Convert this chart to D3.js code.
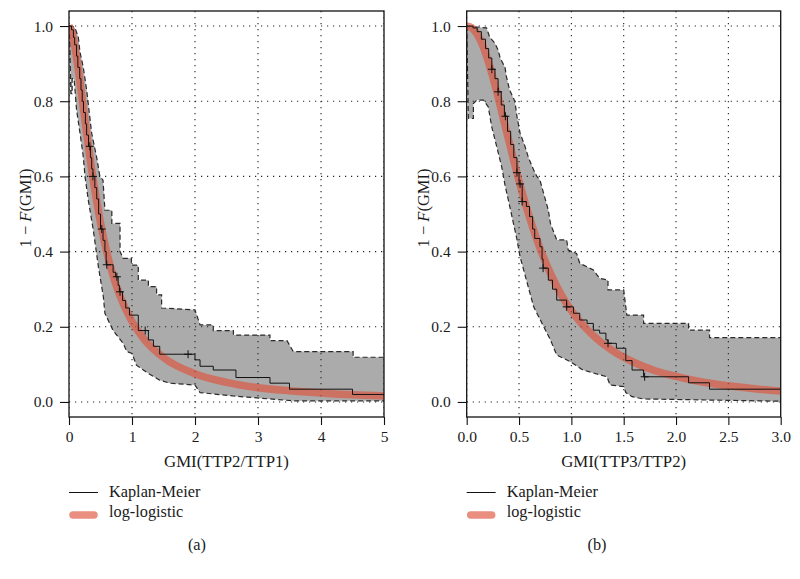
<!DOCTYPE html>
<html><head><meta charset="utf-8">
<script src="https://cdn.jsdelivr.net/npm/d3@7"></script>
<style>
body{margin:0;background:#fff}
svg{display:block}
text{font-family:"Liberation Serif","Times New Roman",serif;fill:#1a1a1a}
</style>
</head><body>
<svg id="chart" width="800" height="579"></svg>
<script>
// ---------- data ----------
// Panel (a): GMI(TTP2/TTP1)
const xTicksA = [0, 1, 2, 3, 4, 5];
const kmA = [[0,1.0],[0.04,0.99],[0.07,0.97],[0.09,0.95],[0.12,0.92],[0.14,0.89],[0.17,0.86],[0.19,0.83],[0.21,0.8],[0.23,0.77],[0.26,0.74],[0.28,0.71],[0.31,0.68],[0.34,0.65],[0.36,0.62],[0.38,0.6],[0.41,0.57],[0.44,0.54],[0.47,0.5],[0.5,0.46],[0.54,0.43],[0.57,0.4],[0.59,0.365],[0.7,0.345],[0.74,0.333],[0.78,0.31],[0.8,0.293],[0.85,0.27],[0.9,0.25],[0.96,0.231],[1.1,0.19],[1.26,0.165],[1.34,0.148],[1.44,0.127],[2.0,0.112],[2.08,0.095],[2.29,0.085],[2.65,0.065],[3.19,0.05],[3.5,0.034],[4.5,0.02],[5,0.02]];
const censorA = [0.33, 0.38, 0.52, 0.6, 0.76, 0.81, 1.21, 1.89];
const upperA = [[0,1.0],[0.05,1.0],[0.095,0.995],[0.148,0.97],[0.175,0.93],[0.227,0.89],[0.28,0.83],[0.36,0.715],[0.44,0.65],[0.49,0.6],[0.54,0.59],[0.57,0.51],[0.68,0.51],[0.68,0.475],[0.81,0.475],[0.81,0.40],[0.86,0.382],[0.99,0.382],[0.99,0.364],[1.1,0.364],[1.1,0.324],[1.26,0.324],[1.26,0.307],[1.39,0.307],[1.39,0.285],[1.47,0.285],[1.47,0.25],[2.0,0.245],[2.08,0.205],[2.29,0.205],[2.29,0.19],[2.61,0.19],[2.61,0.178],[3.19,0.178],[3.19,0.163],[3.46,0.163],[3.56,0.134],[4.51,0.134],[4.51,0.119],[5,0.119]];
const lowerA = [[0,1.0],[0.01,0.97],[0.02,0.9],[0.03,0.82],[0.05,0.82],[0.05,0.86],[0.08,0.86],[0.1,0.82],[0.12,0.777],[0.175,0.715],[0.227,0.652],[0.254,0.6],[0.306,0.537],[0.386,0.457],[0.466,0.36],[0.545,0.28],[0.57,0.236],[0.7,0.19],[0.86,0.156],[0.92,0.134],[1.0,0.129],[1.07,0.098],[1.26,0.076],[1.44,0.058],[1.6,0.05],[2.0,0.045],[2.08,0.025],[2.6,0.016],[3.56,0.003],[5,0.003]];
const fitXA = [0,0.05,0.1,0.15,0.2,0.25,0.3,0.4,0.5,0.6,0.7,0.8,1.0,1.2,1.5,2.0,2.5,3.0,3.5,4.0,4.5,5.0];
const fitSA = [1.0,0.981,0.938,0.881,0.818,0.754,0.690,0.574,0.477,0.398,0.336,0.286,0.214,0.165,0.118,0.075,0.052,0.038,0.030,0.024,0.019,0.016];

// Panel (b): GMI(TTP3/TTP2)
const xTicksB = [0, 0.5, 1.0, 1.5, 2.0, 2.5, 3.0];
const kmB = [[0,1.0],[0.06,0.995],[0.1,0.985],[0.14,0.965],[0.18,0.94],[0.21,0.915],[0.24,0.885],[0.27,0.86],[0.3,0.825],[0.33,0.79],[0.36,0.76],[0.39,0.72],[0.42,0.685],[0.45,0.65],[0.48,0.61],[0.5,0.58],[0.53,0.533],[0.57,0.52],[0.6,0.493],[0.63,0.46],[0.65,0.435],[0.70,0.413],[0.72,0.38],[0.73,0.356],[0.78,0.324],[0.82,0.3],[0.86,0.271],[0.955,0.253],[1.02,0.236],[1.08,0.218],[1.15,0.209],[1.21,0.191],[1.27,0.183],[1.33,0.165],[1.35,0.156],[1.43,0.143],[1.52,0.11],[1.58,0.085],[1.69,0.067],[2.12,0.051],[2.32,0.034],[3,0.034]];
const censorB = [0.24, 0.30, 0.37, 0.48, 0.51, 0.53, 0.73, 0.955, 1.35, 1.7];
const upperB = [[0,1.0],[0.19,0.995],[0.22,0.97],[0.27,0.954],[0.30,0.936],[0.32,0.915],[0.366,0.89],[0.38,0.865],[0.41,0.83],[0.46,0.80],[0.48,0.76],[0.51,0.715],[0.557,0.68],[0.59,0.65],[0.64,0.617],[0.67,0.6],[0.70,0.59],[0.78,0.51],[0.80,0.475],[0.86,0.431],[0.955,0.431],[0.97,0.404],[1.05,0.395],[1.08,0.369],[1.21,0.351],[1.27,0.329],[1.35,0.324],[1.35,0.298],[1.50,0.298],[1.53,0.231],[1.69,0.231],[1.69,0.209],[2.12,0.209],[2.12,0.191],[2.32,0.191],[2.32,0.171],[3,0.171]];
const lowerB = [[0,1.0],[0.016,0.754],[0.064,0.754],[0.064,0.794],[0.096,0.803],[0.159,0.803],[0.206,0.785],[0.239,0.732],[0.287,0.679],[0.334,0.626],[0.366,0.577],[0.398,0.537],[0.478,0.435],[0.51,0.386],[0.64,0.253],[0.72,0.209],[0.80,0.165],[0.86,0.125],[0.99,0.107],[1.11,0.085],[1.34,0.067],[1.37,0.045],[1.5,0.041],[1.52,0.025],[1.58,0.014],[1.69,0.008],[3,0.002]];
const fitXB = [0,0.05,0.1,0.15,0.2,0.25,0.3,0.35,0.4,0.5,0.6,0.7,0.8,0.9,1.0,1.2,1.4,1.6,1.8,2.0,2.25,2.5,2.75,3.0];
const fitSB = [1.0,0.995,0.978,0.950,0.911,0.864,0.811,0.754,0.698,0.588,0.491,0.409,0.342,0.287,0.243,0.179,0.135,0.105,0.083,0.068,0.053,0.043,0.035,0.029];

const yTicks = [0, 0.2, 0.4, 0.6, 0.8, 1.0];
const legendLabels = ["Kaplan-Meier", "log-logistic"];
// ---------------------------------------------------

const svg = d3.select("#chart");
const panels = [
  {id:"a", left:69, right:384, xDomain:[0,5], xTicks:xTicksA, fmt:d3.format("d"),
   km:kmA, censor:censorA, upper:upperA, lower:lowerA, fitX:fitXA, fitS:fitSA,
   xTitle:"GMI(TTP2/TTP1)", caption:"(a)", capX:197},
  {id:"b", left:466.7, right:780.7, xDomain:[0,3], xTicks:xTicksB, fmt:d3.format(".1f"),
   km:kmB, censor:censorB, upper:upperB, lower:lowerB, fitX:fitXB, fitS:fitSB,
   xTitle:"GMI(TTP3/TTP2)", caption:"(b)", capX:597}
];
const plotTop = 11, plotBottom = 417;
const y = d3.scaleLinear().domain([-0.04, 1.04]).range([plotBottom, plotTop]);
const redColor = "rgb(223,83,60)", redOpacity = 0.65;

panels.forEach(p => {
  const x = d3.scaleLinear().domain(p.xDomain).range([p.left, p.right]);
  const g = svg.append("g");
  const clipId = "clip-" + p.id;
  svg.append("defs").append("clipPath").attr("id", clipId)
    .append("rect").attr("x", p.left).attr("y", plotTop).attr("width", p.right - p.left).attr("height", plotBottom - plotTop);
  const plot = g.append("g").attr("clip-path", `url(#${clipId})`);

  const line = d3.line().x(d => x(d[0])).y(d => y(d[1]));

  // confidence band fill
  const poly = p.upper.concat(p.lower.slice().reverse());
  plot.append("path").attr("d", line(poly) + "Z").attr("fill", "#ababab").attr("stroke", "none");

  // grid
  const gridStyle = s => s.attr("stroke", "#222").attr("stroke-width", 1.1).attr("stroke-dasharray", "1.2,4.8");
  plot.selectAll(".gx").data(p.xTicks).join("line")
    .attr("x1", d => x(d)).attr("x2", d => x(d)).attr("y1", plotTop).attr("y2", plotBottom).call(gridStyle);
  plot.selectAll(".gy").data(yTicks).join("line")
    .attr("x1", p.left).attr("x2", p.right).attr("y1", d => y(d)).attr("y2", d => y(d)).call(gridStyle);

  // band edges (dashed)
  [p.upper, p.lower].forEach(b => {
    plot.append("path").attr("d", line(b)).attr("fill", "none")
      .attr("stroke", "#2a2a2a").attr("stroke-width", 1.2).attr("stroke-dasharray", "5,3");
  });

  // log-logistic fit
  const fit = p.fitX.map((v, i) => [v, p.fitS[i]]);
  plot.append("path").attr("d", d3.line().x(d => x(d[0])).y(d => y(d[1])).curve(d3.curveMonotoneX)(fit))
    .attr("fill", "none").attr("stroke", redColor).attr("stroke-opacity", redOpacity)
    .attr("stroke-width", 7.5);

  // Kaplan-Meier
  plot.append("path").attr("d", d3.line().x(d => x(d[0])).y(d => y(d[1])).curve(d3.curveStepAfter)(p.km))
    .attr("fill", "none").attr("stroke", "#111").attr("stroke-width", 1);

  // censor marks
  const bis = d3.bisector(d => d[0]).right;
  p.censor.forEach(cx => {
    const s = p.km[Math.max(0, bis(p.km, cx) - 1)][1];
    const px = x(cx), py = y(s);
    plot.append("path").attr("d", `M${px-4},${py}h8M${px},${py-4}v8`)
      .attr("stroke", "#111").attr("stroke-width", 1).attr("fill", "none");
  });

  // frame
  g.append("rect").attr("x", p.left).attr("y", plotTop).attr("width", p.right - p.left).attr("height", plotBottom - plotTop)
    .attr("fill", "none").attr("stroke", "#111").attr("stroke-width", 1.3);

  // axes
  const ax = g.append("g").attr("transform", `translate(0,${plotBottom})`)
    .call(d3.axisBottom(x).tickValues(p.xTicks).tickFormat(p.fmt).tickSize(8).tickPadding(6));
  const ay = g.append("g").attr("transform", `translate(${p.left},0)`)
    .call(d3.axisLeft(y).tickValues(yTicks).tickFormat(d3.format(".1f")).tickSize(9).tickPadding(7));
  [ax, ay].forEach(a => {
    a.select(".domain").remove();
    a.selectAll(".tick line").attr("stroke", "#111").attr("stroke-width", 1.1);
    a.selectAll(".tick text").attr("font-size", 15.5).attr("fill", "#1a1a1a")
      .style("font-family", '"Liberation Serif","Times New Roman",serif');
  });

  // axis titles
  g.append("text").attr("x", (p.left + p.right) / 2).attr("y", 467).attr("text-anchor", "middle")
    .attr("font-size", 16.8).text(p.xTitle);
  const yt = g.append("text").attr("transform", `translate(${p.left - 38},208) rotate(-90)`)
    .attr("text-anchor", "middle").attr("font-size", 16.5);
  yt.append("tspan").text("1 \u2212 ");
  yt.append("tspan").attr("font-style", "italic").text("F");
  yt.append("tspan").text("(GMI)");

  // legend
  g.append("line").attr("x1", p.left).attr("x2", p.left + 29).attr("y1", 492.5).attr("y2", 492.5)
    .attr("stroke", "#111").attr("stroke-width", 1);
  g.append("line").attr("x1", p.left + 4).attr("x2", p.left + 25).attr("y1", 515).attr("y2", 515)
    .attr("stroke", redColor).attr("stroke-opacity", redOpacity).attr("stroke-width", 7.5).attr("stroke-linecap", "round");
  g.append("text").attr("x", p.left + 40).attr("y", 496.5).attr("font-size", 16.3).text(legendLabels[0]);
  g.append("text").attr("x", p.left + 40).attr("y", 517).attr("font-size", 16.3).text(legendLabels[1]);

  // caption
  g.append("text").attr("x", p.capX).attr("y", 550).attr("text-anchor", "middle").attr("font-size", 16.3).text(p.caption);
});
</script>
</body></html>
